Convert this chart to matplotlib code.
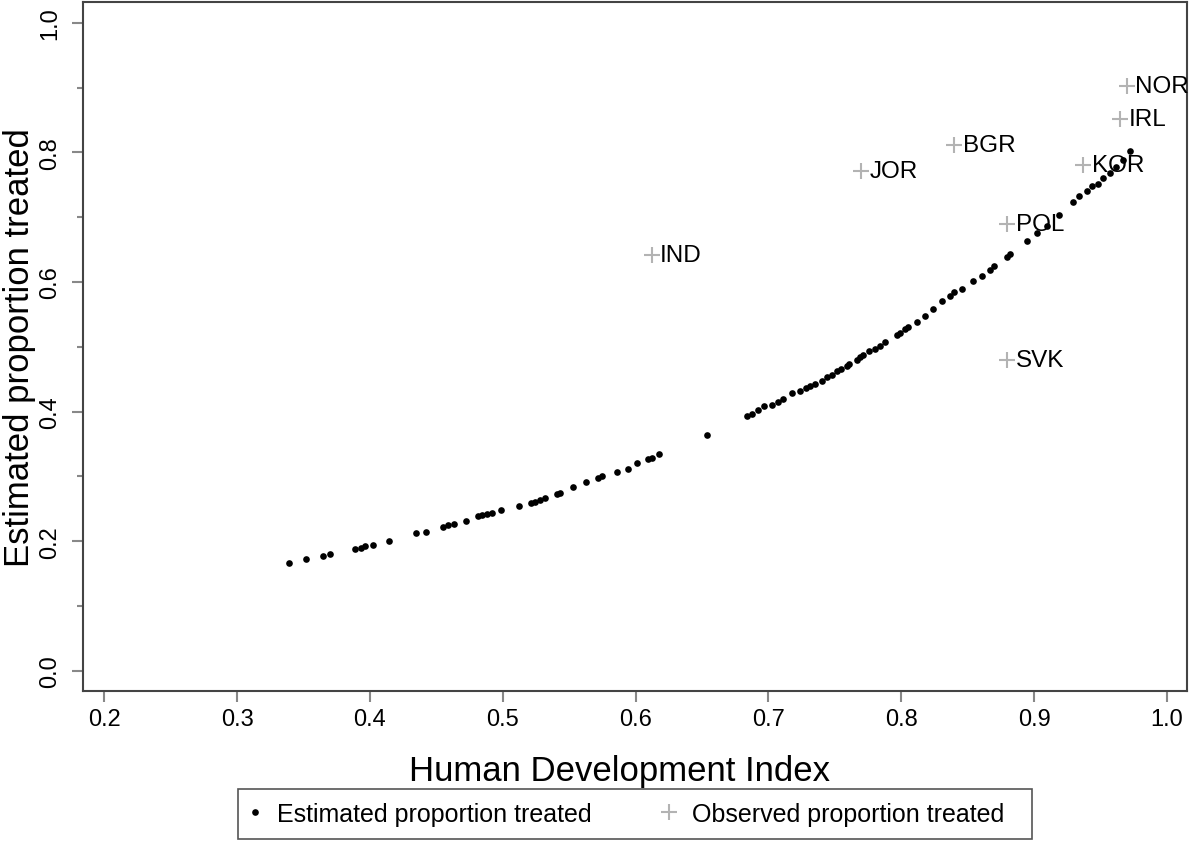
import matplotlib
matplotlib.use("Agg")
import matplotlib.pyplot as plt
from matplotlib.patches import Rectangle

plt.rcParams['font.family'] = ['Liberation Sans', 'DejaVu Sans']

# estimated proportion treated (model curve)
hdi_est = [0.339, 0.352, 0.365, 0.370, 0.389, 0.393, 0.396, 0.402, 0.414, 0.435,
           0.442, 0.455, 0.459, 0.463, 0.472, 0.481, 0.484, 0.488, 0.492, 0.499,
           0.512, 0.521, 0.524, 0.528, 0.532, 0.541, 0.543, 0.553, 0.563, 0.572,
           0.575, 0.586, 0.594, 0.601, 0.609, 0.612, 0.618,
           0.654,
           0.684, 0.688, 0.692, 0.697, 0.703, 0.707, 0.711,
           0.718, 0.724, 0.728, 0.731, 0.735, 0.740, 0.744, 0.748, 0.752, 0.755,
           0.759, 0.761, 0.767, 0.769, 0.771, 0.776, 0.780, 0.784, 0.788,
           0.797, 0.799, 0.803, 0.805, 0.812, 0.818, 0.824,
           0.831, 0.837, 0.840, 0.846, 0.854, 0.861, 0.867, 0.870, 0.880, 0.882,
           0.895, 0.902, 0.910, 0.919, 0.929, 0.934, 0.940, 0.944, 0.948, 0.952,
           0.957, 0.962, 0.967, 0.972]
prop_est = [0.167, 0.173, 0.178, 0.181, 0.188, 0.190, 0.192, 0.195, 0.201, 0.212,
            0.215, 0.222, 0.225, 0.227, 0.232, 0.239, 0.241, 0.242, 0.244, 0.249,
            0.255, 0.259, 0.261, 0.264, 0.267, 0.273, 0.275, 0.284, 0.292, 0.297,
            0.300, 0.307, 0.312, 0.320, 0.327, 0.329, 0.335,
            0.364,
            0.394, 0.397, 0.403, 0.408, 0.411, 0.415, 0.419,
            0.428, 0.432, 0.437, 0.440, 0.443, 0.448, 0.453, 0.457, 0.462, 0.466,
            0.471, 0.474, 0.479, 0.485, 0.487, 0.493, 0.497, 0.502, 0.508,
            0.519, 0.522, 0.527, 0.530, 0.538, 0.547, 0.558,
            0.571, 0.579, 0.584, 0.590, 0.601, 0.610, 0.618, 0.624, 0.639, 0.644,
            0.664, 0.675, 0.686, 0.704, 0.723, 0.732, 0.740, 0.748, 0.752, 0.760,
            0.768, 0.778, 0.789, 0.802]

# observed proportion treated per country
countries = ['IND', 'JOR', 'BGR', 'POL', 'SVK', 'KOR', 'IRL', 'NOR']
hdi_obs = [0.612, 0.770, 0.840, 0.880, 0.880, 0.937, 0.965, 0.970]
prop_obs = [0.642, 0.772, 0.812, 0.690, 0.480, 0.781, 0.852, 0.902]

fig = plt.figure(figsize=(12, 8.45), dpi=100)
ax = fig.add_axes([0.0692, 0.1811, 0.9198, 0.8153])

ax.plot(hdi_est, prop_est, 'o', color='black', markersize=4.8, markeredgewidth=0,
        label='Estimated proportion treated')
ax.plot(hdi_obs, prop_obs, '+', color='#b3b3b3', markersize=11, markeredgewidth=1.5,
        label='Observed proportion treated')

for c, x, y in zip(countries, hdi_obs, prop_obs):
    ax.annotate(c, (x, y), xytext=(6, 0), textcoords='offset points',
                va='center', ha='left', fontsize=17.5, color='black')

ax.set_xlim(0.184, 1.015)
ax.set_ylim(-0.031, 1.032)
ax.set_xticks([0.2, 0.3, 0.4, 0.5, 0.6, 0.7, 0.8, 0.9, 1.0])
ax.set_xticklabels(['0.2', '0.3', '0.4', '0.5', '0.6', '0.7', '0.8', '0.9', '1.0'])
ax.set_yticks([0.0, 0.2, 0.4, 0.6, 0.8, 1.0])
ax.set_yticklabels(['0.0', '0.2', '0.4', '0.6', '0.8', '1.0'], rotation=90, va='center')
ax.set_yticks([0.1, 0.3, 0.5, 0.7, 0.9], minor=True)

ax.tick_params(axis='both', which='major', direction='out', length=8, width=1.5,
               color='#888888', labelsize=17)
ax.tick_params(axis='x', pad=4)
ax.tick_params(axis='y', pad=7.5)
ax.tick_params(axis='y', which='minor', direction='out', length=4, width=1.5,
               color='#888888')

for s in ax.spines.values():
    s.set_color('#444444')
    s.set_linewidth(1.5)

ax.set_xlabel('Human Development Index', fontsize=25)
ax.xaxis.set_label_coords(0.486, -0.091)
ax.set_ylabel('Estimated proportion treated', fontsize=25)
ax.yaxis.set_label_coords(-0.0426, 0.5)

# legend box below the plot
fig.patches.append(Rectangle((238 / 1200, 5 / 845), 794 / 1200, 50 / 845,
                             transform=fig.transFigure, fill=False,
                             edgecolor='#555555', linewidth=1.2))
leg = fig.legend(loc='center left', bbox_to_anchor=(242 / 1200, 1 - 815 / 845),
                 ncol=2, fontsize=18, frameon=False, handlelength=1.0,
                 handletextpad=0.4, columnspacing=2.6, borderpad=0,
                 borderaxespad=0)

fig.savefig('out.png', dpi=100)
